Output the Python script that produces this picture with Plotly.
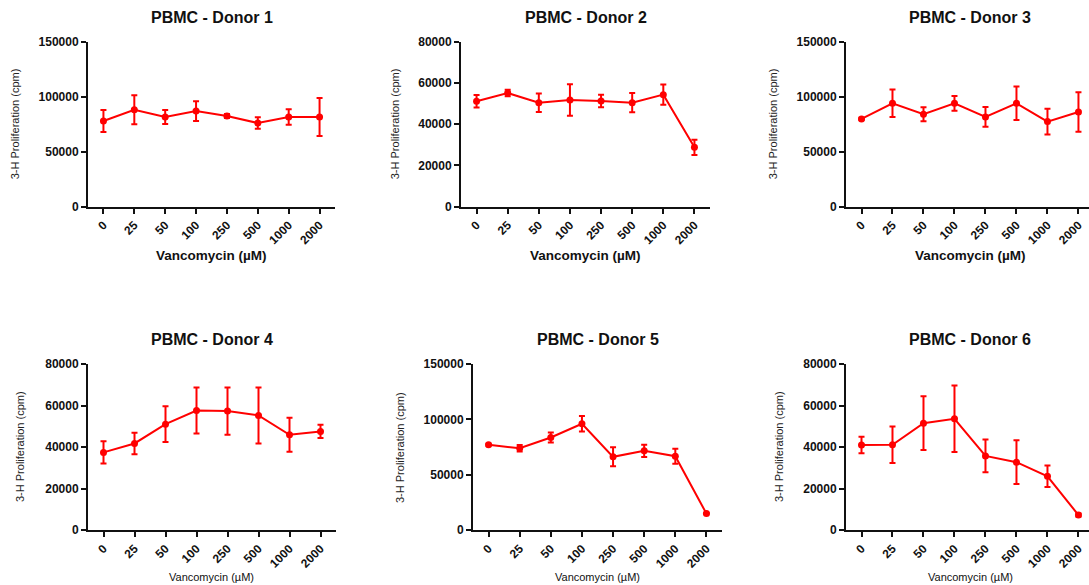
import plotly.graph_objects as go

categories = ["0", "25", "50", "100", "250", "500", "1000", "2000"]

titles = ["PBMC - Donor 1", "PBMC - Donor 2", "PBMC - Donor 3",
          "PBMC - Donor 4", "PBMC - Donor 5", "PBMC - Donor 6"]

donor1_mean = [78000, 88200, 81600, 87000, 82500, 76100, 81600, 81600]
donor1_err = [10000, 13200, 6300, 9000, 1800, 5300, 7000, 17300]

donor2_mean = [51200, 55200, 50500, 51800, 51300, 50500, 54400, 28800]
donor2_err = [3000, 1600, 4500, 7700, 3000, 4700, 4900, 3700]

donor3_mean = [79900, 94100, 84100, 94100, 81700, 94100, 77400, 86200]
donor3_err = [1000, 12600, 6400, 6700, 9000, 15300, 11800, 18000]

donor4_mean = [37400, 41700, 51000, 57600, 57300, 55200, 45900, 47500]
donor4_err = [5400, 5200, 8600, 11100, 11400, 13500, 8200, 3200]

donor5_mean = [77000, 73900, 83600, 96000, 66100, 71500, 66700, 14800]
donor5_err = [900, 3000, 4500, 6900, 8600, 5600, 6800, 600]

donor6_mean = [41000, 41100, 51500, 53600, 35700, 32700, 25900, 7200]
donor6_err = [4000, 8800, 12900, 16000, 7900, 10500, 5200, 700]

y_max = [150000, 80000, 150000, 80000, 150000, 80000]
y_step = [50000, 20000, 50000, 20000, 50000, 20000]

y_title = "3-H Proliferation (cpm)"
x_title = "Vancomycin (µM)"

means = [donor1_mean, donor2_mean, donor3_mean, donor4_mean, donor5_mean, donor6_mean]
errs = [donor1_err, donor2_err, donor3_err, donor4_err, donor5_err, donor6_err]

W, H = 1089, 585
FONT = "Arial, Liberation Sans, sans-serif"
RED = "#ff0000"

# pixel layout of each panel: (left, right, top, bottom, x_range_end, ytitle_x)
panels = [
    (88, 335, 42, 206.5, 7.5, 15),
    (461, 710, 42, 206.5, 7.5, 395),
    (846, 1089, 42, 206.5, 7.34, 773),
    (88, 336, 364, 530, 7.5, 20),
    (473, 722, 364, 530, 7.5, 400),
    (846, 1089, 364, 530, 7.34, 779),
]

fig = go.Figure()
annotations = []
for i in range(6):
    left, right, top, bottom, xend, ytx = panels[i]
    n = i + 1
    xa = "x" if n == 1 else f"x{n}"
    ya = "y" if n == 1 else f"y{n}"
    fig.add_trace(go.Scatter(
        x=list(range(len(categories))), y=means[i],
        mode="lines+markers",
        line=dict(color=RED, width=2),
        marker=dict(color=RED, size=7),
        error_y=dict(type="data", array=errs[i], visible=True,
                     color=RED, thickness=2, width=3),
        xaxis=xa, yaxis=ya, showlegend=False, cliponaxis=False,
    ))
    xd = [left / W, min(right / W, 1.0)]
    yd = [(H - bottom) / H, (H - top) / H]
    key = "" if n == 1 else str(n)
    fig.layout["xaxis" + key] = dict(
        domain=xd, anchor=ya, range=[-0.5, xend], automargin=False,
        tickmode="array", tickvals=list(range(len(categories))), ticktext=categories,
        tickangle=-45, showgrid=False, zeroline=False,
        showline=True, linecolor="#111", linewidth=2,
        ticks="outside", ticklen=5, tickwidth=2, tickcolor="#111",
        tickfont=dict(family=FONT, size=12, color="#111", weight="bold"),
    )
    fig.layout["yaxis" + key] = dict(
        domain=yd, anchor=xa, range=[0, y_max[i]], automargin=False,
        tickmode="linear", tick0=0, dtick=y_step[i], tickformat="d",
        showgrid=False, zeroline=False,
        showline=True, linecolor="#111", linewidth=2,
        ticks="outside", ticklen=5, tickwidth=2, tickcolor="#111",
        tickfont=dict(family=FONT, size=12, color="#111", weight="bold"),
    )
    cx = (left + right) / 2 / W
    if i == 2 or i == 5:
        cx = (left + 1094) / 2 / W
    title_y = 17 if i < 3 else 340
    annotations.append(dict(
        text=titles[i], xref="paper", yref="paper", x=cx, y=(H - title_y) / H,
        xanchor="center", yanchor="middle", showarrow=False,
        font=dict(family=FONT, size=16, color="#111", weight="bold"),
    ))
    annotations.append(dict(
        text=y_title, xref="paper", yref="paper", x=ytx / W, y=(H - (top + bottom) / 2) / H,
        xanchor="center", yanchor="middle", textangle=-90, showarrow=False,
        font=dict(family=FONT, size=11, color="#222"),
    ))
    xt_y = 255 if i < 3 else 577
    annotations.append(dict(
        text=x_title, xref="paper", yref="paper", x=cx, y=(H - xt_y) / H,
        xanchor="center", yanchor="middle", showarrow=False,
        font=dict(family=FONT, size=13.5 if i < 3 else 11, color="#111",
                  weight="bold" if i < 3 else "normal"),
    ))

fig.update_layout(
    width=W, height=H,
    margin=dict(l=0, r=0, t=0, b=0, autoexpand=False),
    paper_bgcolor="white", plot_bgcolor="white",
    annotations=annotations,
)

fig.write_html("out.html")
